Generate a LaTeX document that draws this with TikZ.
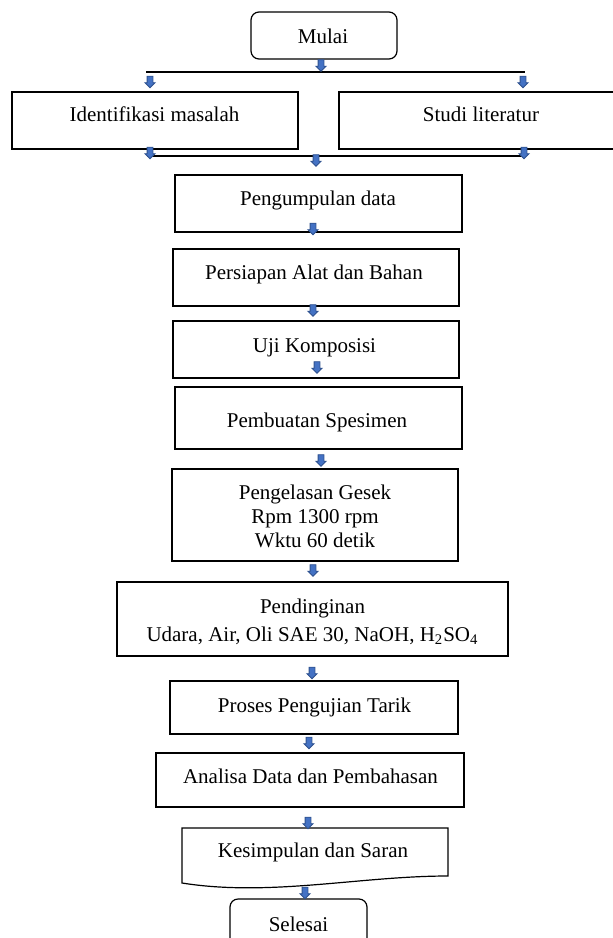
\documentclass[tikz,border=0pt]{standalone}
\usepackage{fontspec}
\setmainfont{Liberation Serif}
\usetikzlibrary{shapes.arrows}
\definecolor{panahisi}{HTML}{4472C4}
\definecolor{panahgaris}{HTML}{2F528F}

\begin{document}
\begin{tikzpicture}[
  x=0.5pt, y=-0.5pt,
  kotak/.style={draw,line width=0.6pt,inner sep=0pt},
  bulat/.style={kotak,rounded corners=4pt},
  teks/.style={font=\fontsize{10.5}{12}\selectfont,inner sep=0pt,anchor=base,align=center},
  panah/.style={single arrow,draw=panahgaris,fill=panahisi,line width=0.4pt,
    rotate=-90,minimum height=5.8pt,
    single arrow head extend=1.1pt,inner xsep=0pt,inner ysep=1.25pt}
]
\useasboundingbox (0,0) rectangle (613,938);
\clip (0,0) rectangle (613,938);
% kotak-kotak
\node[bulat,minimum width=73pt,minimum height=23.5pt] (mulai) at (324,35.5) {};
\node[kotak,minimum width=143pt,minimum height=28.5pt] (identifikasi) at (155,120.5) {};
\node[kotak,minimum width=142pt,minimum height=28.5pt] (studi) at (481,120.5) {};
\node[kotak,minimum width=143.5pt,minimum height=28.5pt] (kumpul) at (318.5,203.5) {};
\node[kotak,minimum width=143pt,minimum height=28.5pt] (persiapan) at (316,277.5) {};
\node[kotak,minimum width=143pt,minimum height=28.5pt] (uji) at (316,349.5) {};
\node[kotak,minimum width=143.5pt,minimum height=31pt] (spesimen) at (318.5,418) {};
\node[kotak,minimum width=143pt,minimum height=46pt] (las) at (315,515) {};
\node[kotak,minimum width=195.5pt,minimum height=37pt] (dingin) at (312.5,619) {};
\node[kotak,minimum width=144pt,minimum height=26.5pt] (tarik) at (314,707.5) {};
\node[kotak,minimum width=154pt,minimum height=27pt] (analisa) at (310,780) {};
\draw[line width=0.6pt] (182,828) -- (448,828) -- (448,876)
  .. controls (360,876) and (270,897) .. (182,883) -- cycle;
\node[bulat,minimum width=68.5pt,minimum height=26pt] (selesai) at (298.5,925) {};

% teks
\node[teks] (tMulai) at (323,43) {Mulai};
\node[teks] (tIdentifikasi) at (154.5,121) {Identifikasi masalah};
\node[teks] (tStudi) at (481,121) {Studi literatur};
\node[teks] (tKumpul) at (318,205) {Pengumpulan data};
\node[teks] (tPersiapan) at (314,279) {Persiapan Alat dan Bahan};
\node[teks] (tUji) at (314.5,352) {Uji Komposisi};
\node[teks] (tSpesimen) at (317,427) {Pembuatan Spesimen};
\node[teks] (tLas) at (315,547) {Pengelasan Gesek\\Rpm 1300 rpm\\Wktu 60 detik};
\node[teks] (tDingin) at (312.5,641) {Pendinginan\\[1.9pt]Udara, Air, Oli SAE 30, NaOH, H\textsubscript{2}SO\textsubscript{4}};
\node[teks] (tTarik) at (314.5,712) {Proses Pengujian Tarik};
\node[teks] (tAnalisa) at (310.5,783) {Analisa Data dan Pembahasan};
\node[teks] (tSimpul) at (313,857) {Kesimpulan dan Saran};
\node[teks] (tSelesai) at (298.5,931) {Selesai};

% garis cabang
\coordinate (atasKiri) at (146,72);
\coordinate (atasKanan) at (525,72);
\coordinate (bawahKiri) at (147,156);
\coordinate (bawahKanan) at (525,156);
\draw[line width=0.6pt] (atasKiri) -- (atasKanan);
\draw[line width=0.6pt] (bawahKiri) -- (bawahKanan);

% panah biru
\node[panah] (p0) at (321,64) {};
\node[panah] (p1) at (150,80.5) {};
\node[panah] (p2) at (523,80.5) {};
\node[panah] (p3) at (150,151.5) {};
\node[panah] (p4) at (524,151.5) {};
\node[panah] (p5) at (316,159) {};
\node[panah] (p6) at (313,227.5) {};
\node[panah] (p7) at (313,309) {};
\node[panah] (p8) at (317,366) {};
\node[panah] (p9) at (321,459) {};
\node[panah] (p10) at (313,569) {};
\node[panah] (p11) at (312,671.5) {};
\node[panah] (p12) at (309,741.5) {};
\node[panah] (p13) at (308,821.5) {};
\node[panah] (p14) at (305,891.5) {};
\end{tikzpicture}
\end{document}
